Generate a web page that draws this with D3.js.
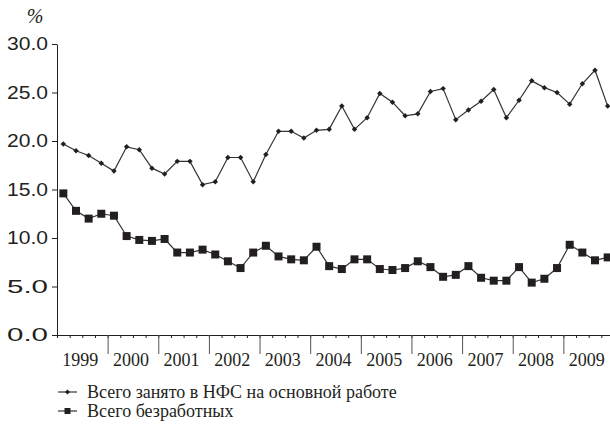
<!DOCTYPE html>
<html>
<head>
<meta charset="utf-8">
<script src="https://cdn.jsdelivr.net/npm/d3@7"></script>
<style>
  body { margin: 0; background: #fff; }
  svg { font-family: "Liberation Serif", "Times New Roman", serif; }
</style>
</head>
<body>
<svg id="chart" width="610" height="440"></svg>
<script>
// quarterly data, 1999 Q1 .. 2009 Q4
var years = ['1999','2000','2001','2002','2003','2004','2005','2006','2007','2008','2009'];
var employed = [19.7,19.0,18.5,17.7,16.9,19.4,19.1,17.2,16.6,17.9,17.9,15.5,15.8,18.3,18.3,15.8,
                18.6,21.0,21.0,20.3,21.1,21.2,23.6,21.2,22.4,24.9,24.0,22.6,22.8,25.1,25.4,22.2,
                23.2,24.1,25.3,22.4,24.2,26.2,25.5,25.0,23.8,25.9,27.3,23.6];
var unemployed = [14.6,12.8,12.0,12.5,12.3,10.2,9.8,9.7,9.9,8.5,8.5,8.8,8.3,7.6,6.9,8.5,
                  9.2,8.1,7.8,7.7,9.1,7.1,6.8,7.8,7.8,6.8,6.7,6.9,7.6,7.0,6.0,6.2,
                  7.1,5.9,5.6,5.6,7.0,5.4,5.8,6.9,9.3,8.5,7.7,8.0];
var yTicks = [0, 5, 10, 15, 20, 25, 30];
var legendLabels = ['Всего занято в НФС на основной работе', 'Всего безработных'];

var svg = d3.select('#chart');
var plotLeft = 57, plotRight = 614, plotTop = 44, plotBottom = 335;
var nQ = years.length * 4;

var x = d3.scaleLinear().domain([0, nQ]).range([plotLeft, plotRight]);
var y = d3.scaleLinear().domain([0, 30]).range([plotBottom, plotTop]);

var ink = '#231f20';

// y axis
var yAxis = svg.append('g')
    .attr('transform', `translate(${plotLeft},0)`)
    .call(d3.axisLeft(y).tickValues(yTicks).tickSize(5).tickSizeOuter(0).tickFormat(d3.format('.1f')));
yAxis.select('.domain').attr('stroke', ink);
yAxis.selectAll('.tick line').attr('stroke', ink);
yAxis.selectAll('.tick text')
    .attr('x', -9)
    .attr('fill', ink)
    .style('font-size', '18px')
    .attr('textLength', 41)
    .attr('lengthAdjust', 'spacingAndGlyphs');

// x axis: quarter ticks
var xAxis = svg.append('g')
    .attr('transform', `translate(0,${plotBottom})`)
    .call(d3.axisBottom(x).tickValues(d3.range(0, nQ + 1)).tickSize(3).tickSizeOuter(0).tickFormat(''));
xAxis.select('.domain').attr('stroke', ink);
xAxis.selectAll('.tick line').attr('stroke', ink);

// x axis: year boundaries
var yearAxis = svg.append('g')
    .attr('transform', `translate(0,${plotBottom})`)
    .call(d3.axisBottom(x).tickValues(d3.range(4, nQ, 4)).tickSize(19).tickFormat(''));
yearAxis.select('.domain').remove();
yearAxis.selectAll('.tick line').attr('stroke', '#555');

svg.append('g').selectAll('text')
    .data(years)
    .enter()
    .append('text')
    .attr('x', (d, i) => x(i * 4 + 2) - 2)
    .attr('y', 366)
    .attr('text-anchor', 'middle')
    .attr('fill', ink)
    .style('font-size', '18px')
    .text(d => d);

// % label
svg.append('text')
    .attr('x', 35)
    .attr('y', 23)
    .attr('text-anchor', 'middle')
    .attr('fill', ink)
    .style('font-size', '20px')
    .style('font-style', 'italic')
    .text('%');

var line = d3.line()
    .x((d, i) => x(i + 0.5))
    .y(d => y(d));

var diamond = d3.symbol().type(d3.symbolSquare).size(15);
var square = d3.symbol().type(d3.symbolSquare).size(64);

svg.append('path')
    .datum(employed)
    .attr('d', line)
    .attr('fill', 'none')
    .attr('stroke', '#333')
    .attr('stroke-width', 1.2);

svg.append('path')
    .datum(unemployed)
    .attr('d', line)
    .attr('fill', 'none')
    .attr('stroke', '#333')
    .attr('stroke-width', 1.2);

svg.append('g').selectAll('path')
    .data(employed)
    .enter()
    .append('path')
    .attr('d', diamond)
    .attr('transform', (d, i) => `translate(${x(i + 0.5)},${y(d)}) rotate(45)`)
    .attr('fill', ink);

svg.append('g').selectAll('path')
    .data(unemployed)
    .enter()
    .append('path')
    .attr('d', square)
    .attr('transform', (d, i) => `translate(${x(i + 0.5)},${y(d)})`)
    .attr('fill', ink);

// legend
var legend = svg.append('g');
var legendY = [392, 411];
legendLabels.forEach(function (label, i) {
    legend.append('line')
        .attr('x1', 58).attr('x2', 77)
        .attr('y1', legendY[i]).attr('y2', legendY[i])
        .attr('stroke', '#333')
        .attr('stroke-width', 1.2);
    legend.append('path')
        .attr('d', d3.symbol().type(d3.symbolSquare).size(i === 0 ? 12 : 36))
        .attr('transform', `translate(67.5,${legendY[i]})` + (i === 0 ? ' rotate(45)' : ''))
        .attr('fill', ink);
    legend.append('text')
        .attr('x', 87)
        .attr('y', legendY[i] + 6)
        .attr('fill', ink)
        .style('font-size', '18px')
        .text(label);
});
</script>
</body>
</html>
